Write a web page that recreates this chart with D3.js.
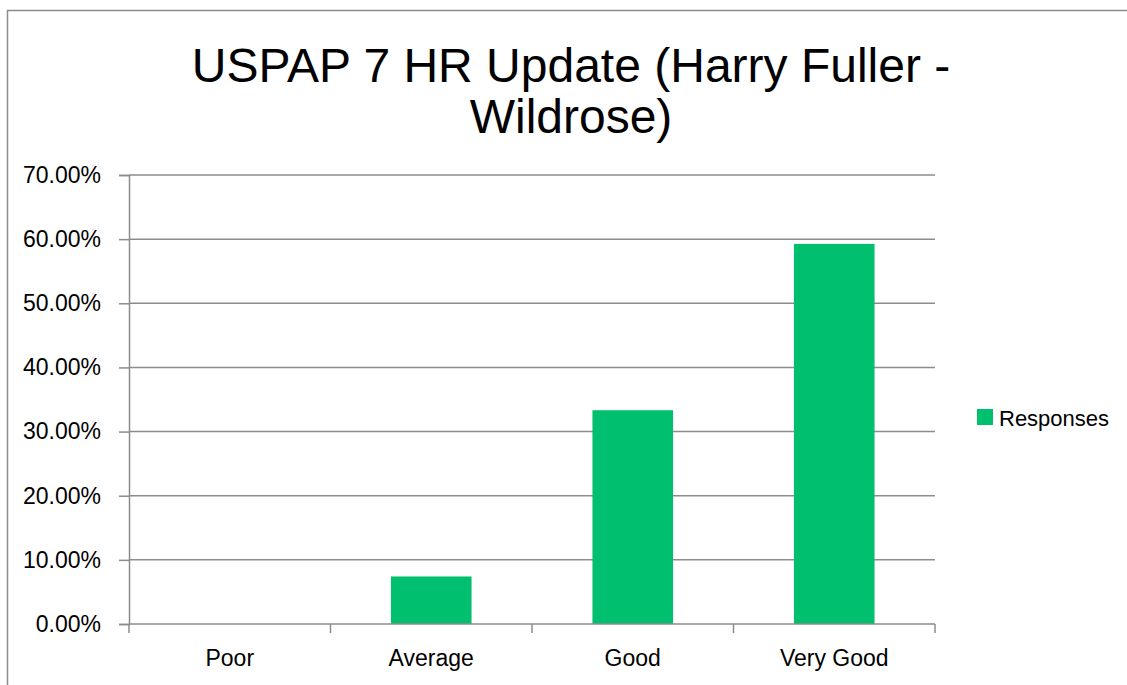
<!DOCTYPE html>
<html>
<head>
<meta charset="utf-8">
<script src="https://cdn.jsdelivr.net/npm/d3@7"></script>
<style>
  body { margin: 0; background: #fff; }
  text { fill: #000; }
</style>
</head>
<body>
<script>
/*** DATA ***/
const categories = ["Poor", "Average", "Good", "Very Good"];
const responses = [0, 0.0741, 0.3333, 0.5926];
const yTicks = [0, 0.1, 0.2, 0.3, 0.4, 0.5, 0.6, 0.7];
const seriesName = "Responses";
const titleLines = ["USPAP 7 HR Update (Harry Fuller -", "Wildrose)"];

/* positionner le graph */
const W = 1127, H = 685;
const margin = { top: 175, left: 129 },
  width = 935 - 129,
  height = 624 - 175;
const green = "#00bf6f", grid = "#8c8c8c";
const font = "'Liberation Sans Narrow', 'Liberation Sans', Arial, sans-serif";

const svg = d3.select("body").append("svg")
  .attr("width", W)
  .attr("height", H);

/* cadre */
svg.append("rect")
  .attr("x", 7.5).attr("y", 10.5)
  .attr("width", W + 20).attr("height", H + 20)
  .attr("fill", "none")
  .attr("stroke", grid)
  .attr("stroke-width", 1.5);

/* Titre */
svg.append("text")
  .attr("x", 571)
  .attr("y", 82)
  .attr("text-anchor", "middle")
  .style("font-family", "'Liberation Sans', Arial, sans-serif")
  .style("font-size", "48px")
  .selectAll("tspan")
  .data(titleLines)
  .enter().append("tspan")
  .attr("x", 571)
  .attr("dy", (d, i) => i === 0 ? 0 : 51)
  .text(d => d);

const g = svg.append("g")
  .attr("transform", "translate(" + margin.left + "," + margin.top + ")");

const x = d3.scaleBand()
  .domain(categories)
  .range([0, width])
  .paddingInner(0.6)
  .paddingOuter(0.3);

const xTicks = d3.scaleBand().domain(categories).range([0, width]);

const y = d3.scaleLinear()
  .domain([0, 0.7])
  .range([height, 0]);

/* grille + axe y */
const yAxis = g.append("g")
  .call(d3.axisLeft(y)
    .tickValues(yTicks)
    .tickFormat(d3.format(".2%"))
    .tickSize(10)
    .tickPadding(18));
yAxis.select(".domain").attr("stroke", grid).attr("stroke-width", 1.5);
yAxis.selectAll(".tick line").attr("stroke", grid).attr("stroke-width", 1.5);
yAxis.selectAll(".tick text")
  .style("font-family", font)
  .style("font-size", "23px")
  .attr("fill", "#000");

g.append("g")
  .selectAll("line")
  .data(yTicks.filter(d => d > 0))
  .enter().append("line")
  .attr("x1", 0).attr("x2", width)
  .attr("y1", d => y(d)).attr("y2", d => y(d))
  .attr("stroke", grid)
  .attr("stroke-width", 1.5);

/* barres */
g.selectAll(".bar")
  .data(categories)
  .enter().append("rect")
  .attr("class", "bar")
  .attr("x", d => x(d))
  .attr("width", x.bandwidth())
  .attr("y", (d, i) => y(responses[i]))
  .attr("height", (d, i) => height - y(responses[i]))
  .attr("fill", green);

/* axe x */
const xAxis = g.append("g")
  .attr("transform", "translate(0," + height + ")");
xAxis.append("line")
  .attr("x1", 0).attr("x2", width)
  .attr("stroke", grid).attr("stroke-width", 1.5);
xAxis.selectAll(".xt")
  .data(categories.map(c => xTicks(c)).concat([width]))
  .enter().append("line")
  .attr("class", "xt")
  .attr("x1", d => d).attr("x2", d => d)
  .attr("y1", 0).attr("y2", 9)
  .attr("stroke", grid).attr("stroke-width", 1.5);
xAxis.selectAll(".xl")
  .data(categories)
  .enter().append("text")
  .attr("class", "xl")
  .attr("x", d => xTicks(d) + xTicks.bandwidth() / 2)
  .attr("y", 42)
  .attr("text-anchor", "middle")
  .style("font-family", font)
  .style("font-size", "23px")
  .text(d => d);

/* légende */
const legend = svg.append("g")
  .attr("transform", "translate(977,409)");
legend.append("rect")
  .attr("width", 16).attr("height", 16)
  .attr("fill", green);
legend.append("text")
  .attr("x", 22)
  .attr("y", 17)
  .style("font-family", font)
  .style("font-size", "22px")
  .text(seriesName);
</script>
</body>
</html>
